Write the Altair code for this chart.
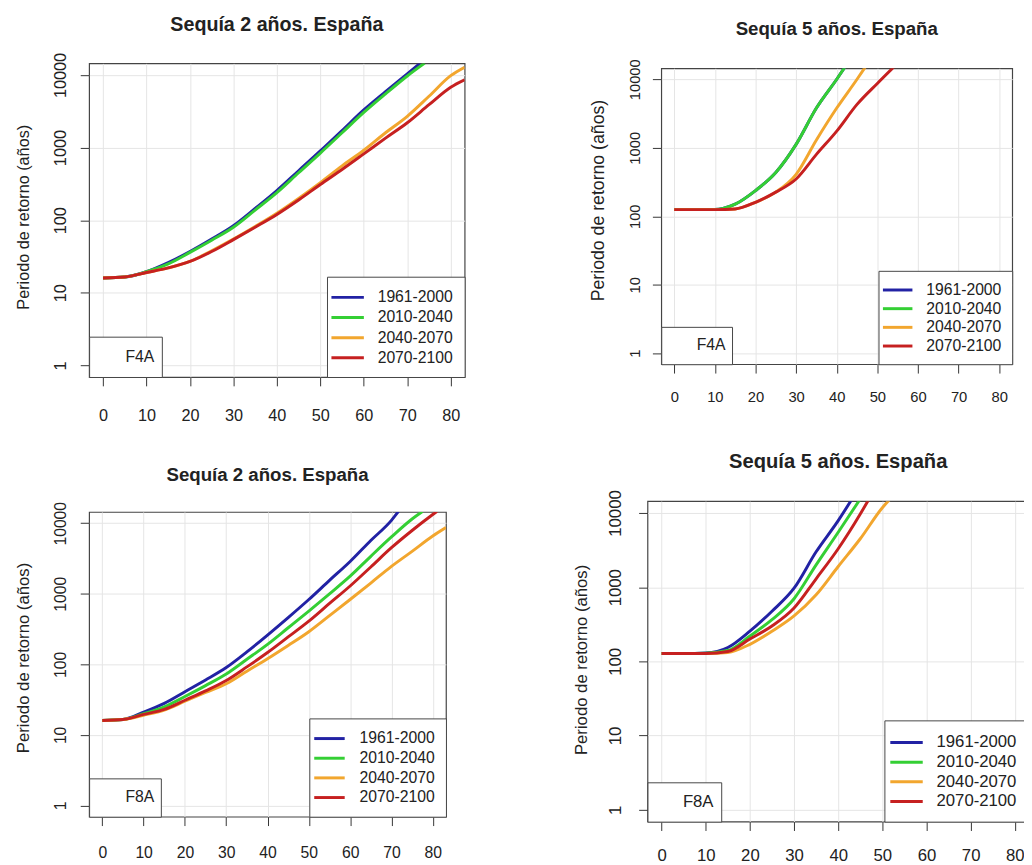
import altair as alt
import pandas as pd

FONT = "Liberation Sans"
TXT = "#222222"
TICK = "#333333"
BOX = "#444444"
GRID = "#e4e4e4"

SERIES = ["1961-2000", "2010-2040", "2040-2070", "2070-2100"]
COLORS = ["#2222a4", "#34cf34", "#f2a62e", "#c62020"]
X_TICKS = [0, 10, 20, 30, 40, 50, 60, 70, 80]
Y_TICKS = [1, 10, 100, 1000, 10000]
X_DOMAIN = [-3.2, 83.2]
Y_DOMAIN = [0.692, 14454]

TITLE_2 = "Sequía 2 años. España"
TITLE_5 = "Sequía 5 años. España"
Y_TITLE = "Periodo de retorno (años)"

# Panel 1 - Sequía 2 años, F4A
P1_X_1961 = [0, 5, 10, 15, 20, 25, 30, 35, 40, 45, 50, 55, 60, 65, 70, 73]
P1_Y_1961 = [16, 16.5, 19.5, 26, 37, 55, 84, 145, 256, 480, 900, 1720, 3300, 5900, 10400, 14600]
P1_X_2010 = [0, 5, 10, 15, 20, 25, 30, 35, 40, 45, 50, 55, 60, 65, 70, 74]
P1_Y_2010 = [16, 16.5, 19.5, 25, 36, 53, 80, 138, 240, 450, 840, 1600, 3050, 5500, 9700, 14600]
P1_X_2040 = [0, 5, 10, 15, 20, 25, 30, 35, 40, 45, 50, 55, 60, 65, 70, 75, 80, 83.2]
P1_Y_2040 = [16, 16.5, 19, 22, 27, 38, 55, 82, 125, 200, 330, 560, 920, 1600, 2700, 5100, 9800, 12800]
P1_X_2070 = [0, 5, 10, 15, 20, 25, 30, 35, 40, 45, 50, 55, 60, 65, 70, 75, 80, 83.2]
P1_Y_2070 = [16, 16.5, 19, 22, 27, 37, 54, 80, 120, 190, 310, 500, 820, 1350, 2200, 3900, 6800, 8600]

# Panel 2 - Sequía 5 años, F4A
P2_X_1961 = [0, 5, 10, 12, 15, 20, 25, 30, 35, 40, 42]
P2_Y_1961 = [125, 125, 126, 130, 150, 237, 435, 1120, 3800, 10000, 15000]
P2_X_2010 = [0, 5, 10, 12, 15, 20, 25, 30, 35, 40, 42]
P2_Y_2010 = [125, 125, 126, 130, 150, 237, 435, 1120, 3800, 10000, 15000]
P2_X_2040 = [0, 5, 10, 15, 20, 25, 30, 35, 40, 45, 47]
P2_Y_2040 = [125, 125, 125, 128, 160, 225, 410, 1300, 3800, 10000, 15000]
P2_X_2070 = [0, 5, 10, 15, 20, 25, 30, 35, 40, 45, 50, 54]
P2_Y_2070 = [125, 125, 125, 128, 160, 225, 350, 800, 1750, 4300, 8700, 15000]

# Panel 3 - Sequía 2 años, F8A
P3_X_1961 = [0, 5, 10, 15, 20, 25, 30, 35, 40, 45, 50, 55, 60, 65, 70, 71.7]
P3_Y_1961 = [16, 16.5, 21, 28, 41, 60, 90, 150, 260, 460, 830, 1550, 2870, 5700, 11000, 14700]
P3_X_2010 = [0, 5, 10, 15, 20, 25, 30, 35, 40, 45, 50, 55, 60, 65, 70, 75, 77.5]
P3_Y_2010 = [16, 16.5, 20, 25, 35, 50, 73, 118, 192, 330, 570, 1000, 1780, 3400, 6400, 11500, 14700]
P3_X_2040 = [0, 5, 10, 15, 20, 25, 30, 35, 40, 45, 50, 55, 60, 65, 70, 75, 80, 83.2]
P3_Y_2040 = [16, 16.5, 19, 22.5, 30, 40, 53, 80, 120, 185, 290, 490, 830, 1420, 2450, 4000, 6600, 8700]
P3_X_2070 = [0, 5, 10, 15, 20, 25, 30, 35, 40, 45, 50, 55, 60, 65, 70, 75, 80, 81]
P3_Y_2070 = [16, 16.5, 19.5, 23, 31, 42, 59, 92, 147, 245, 410, 730, 1290, 2400, 4500, 7900, 13300, 14700]

# Panel 4 - Sequía 5 años, F8A
P4_X_1961 = [0, 5, 10, 15, 20, 25, 30, 35, 40, 43]
P4_Y_1961 = [128, 128, 130, 154, 256, 475, 970, 3000, 7900, 15000]
P4_X_2010 = [0, 5, 10, 15, 20, 25, 30, 35, 40, 45]
P4_Y_2010 = [128, 128, 129, 140, 220, 365, 700, 2000, 5500, 15500]
P4_X_2040 = [0, 5, 10, 15, 20, 25, 30, 35, 40, 45, 50, 52]
P4_Y_2040 = [128, 128, 128, 132, 170, 255, 410, 790, 1900, 4500, 11800, 16000]
P4_X_2070 = [0, 5, 10, 15, 20, 25, 30, 35, 40, 45, 47]
P4_Y_2070 = [128, 128, 128, 136, 200, 300, 525, 1300, 3300, 9700, 15500]

SPACER = pd.DataFrame({"s": [0]})


def make_df(fbox, pairs):
    rows = []
    for name, (xs, ys) in zip(SERIES, pairs):
        for xv, yv in zip(xs, ys):
            rows.append({"x": xv, "y": yv, "serie": name, "caja": fbox})
    return pd.DataFrame(rows)


def panel(df, fbox, c):
    x_axis = alt.Axis(
        values=X_TICKS, title=None, domain=False, grid=True, gridColor=GRID,
        tickSize=9, tickColor=TICK, tickWidth=1, labelAngle=0, labelAlign="center",
        labelBaseline="middle", labelPadding=c["xpad"], labelFont=FONT,
        labelFontSize=c["tick"], labelColor=TXT, labelFlush=False, labelOverlap=False,
    )
    y_axis = alt.Axis(
        values=Y_TICKS, format="d", title=Y_TITLE, domain=False, grid=True, gridColor=GRID,
        tickSize=9, tickColor=TICK, tickWidth=1, labelAngle=270, labelAlign="center",
        labelBaseline="middle", labelPadding=c["ypad"], labelFont=FONT,
        labelFontSize=c["tick"], labelColor=TXT, labelFlush=False, labelOverlap=False,
        titleFont=FONT, titleFontSize=c["ytitle"], titleFontWeight="normal", titleColor=TXT,
        titleAngle=270, titleAlign="center", titleBaseline="middle",
        titleX=c["ytx"], titleY=c["yty"],
    )
    color_legend = alt.Legend(
        title=None, orient="bottom-right", offset=0, padding=c["lpad"],
        strokeColor=BOX, fillColor="white", cornerRadius=0,
        symbolType="M-2,0H2", symbolSize=c["lsym"], symbolStrokeWidth=3, symbolOffset=0,
        labelOffset=c["loff"], labelFont=FONT, labelFontSize=c["lfont"], labelColor=TXT,
        rowPadding=c["lrow"], labelLimit=0,
    )
    box_legend = alt.Legend(
        title=None, orient="bottom-left", offset=0, padding=c["fpad"],
        strokeColor=BOX, fillColor="white", cornerRadius=0,
        symbolType="M-1,-1M1,1", symbolSize=c["fsym"], symbolStrokeWidth=0,
        symbolFillColor="transparent", symbolStrokeColor="transparent",
        symbolOffset=c["fso"], labelOffset=0, labelFont=FONT, labelFontSize=c["ffont"],
        labelColor=TXT, labelLimit=0,
    )
    ttl = alt.Title(
        text=c["text"], font=FONT, fontSize=c["tsize"], fontWeight="bold", color=TXT,
        anchor="middle", frame="group", offset=c["toff"], baseline="top",
    )
    lines = alt.Chart(df).mark_line(strokeWidth=3, clip=True, interpolate="monotone").encode(
        x=alt.X("x:Q", scale=alt.Scale(domain=X_DOMAIN, nice=False, zero=False), axis=x_axis),
        y=alt.Y("y:Q", scale=alt.Scale(type="log", domain=Y_DOMAIN, nice=False), axis=y_axis),
        color=alt.Color("serie:N", scale=alt.Scale(domain=SERIES, range=COLORS), legend=color_legend),
        opacity=alt.Opacity("caja:N", scale=alt.Scale(domain=[fbox], range=[1]), legend=box_legend),
    )
    # invisible layout spacer (balances the vertical centring of each row)
    spacer = alt.Chart(SPACER).mark_rule(opacity=0, strokeWidth=1).encode(
        x=alt.value(0), x2=alt.value(1), y=alt.value(c["spacer"])
    )
    return alt.layer(lines, spacer).properties(width=c["w"], height=c["h"], title=ttl)


df1 = make_df("F4A", [(P1_X_1961, P1_Y_1961), (P1_X_2010, P1_Y_2010), (P1_X_2040, P1_Y_2040), (P1_X_2070, P1_Y_2070)])
df2 = make_df("F4A", [(P2_X_1961, P2_Y_1961), (P2_X_2010, P2_Y_2010), (P2_X_2040, P2_Y_2040), (P2_X_2070, P2_Y_2070)])
df3 = make_df("F8A", [(P3_X_1961, P3_Y_1961), (P3_X_2010, P3_Y_2010), (P3_X_2040, P3_Y_2040), (P3_X_2070, P3_Y_2070)])
df4 = make_df("F8A", [(P4_X_1961, P4_Y_1961), (P4_X_2010, P4_Y_2010), (P4_X_2040, P4_Y_2040), (P4_X_2070, P4_Y_2070)])

c1 = dict(w=382, h=319, text=TITLE_2, tsize=20, toff=17.9, tick=16.5, xpad=30, ypad=20, spacer=379,
          ytitle=16.5, ytx=-67, yty=156, lpad=11, lsym=272, loff=20.5, lfont=16, lrow=2.5,
          fpad=7, fsym=729, fso=3, ffont=16)
c2 = dict(w=357, h=301, text=TITLE_5, tsize=19, toff=19.8, tick=15, xpad=24, ypad=18, spacer=369,
          ytitle=18, ytx=-64, yty=134, lpad=10.5, lsym=225, loff=20, lfont=16, lrow=2,
          fpad=6, fsym=676, fso=4, ffont=16)
c3 = dict(w=363, h=310, text=TITLE_2, tsize=19, toff=16.3, tick=16, xpad=27, ypad=20, spacer=360,
          ytitle=17, ytx=-67, yty=148, lpad=11, lsym=240, loff=21, lfont=16, lrow=2,
          fpad=6, fsym=729, fso=4, ffont=16)
c4 = dict(w=388, h=326, text=TITLE_5, tsize=20.5, toff=17.2, tick=17, xpad=26, ypad=23, spacer=382,
          ytitle=17, ytx=-67, yty=161, lpad=12.5, lsym=272, loff=20.5, lfont=17, lrow=2,
          fpad=7, fsym=676, fso=3, ffont=17)

p1 = panel(df1, "F4A", c1)
p2 = panel(df2, "F4A", c2)
p3 = panel(df3, "F8A", c3)
p4 = panel(df4, "F8A", c4)

ind = dict(x="independent", y="independent", color="independent", opacity="independent")
row1 = (alt.hconcat(p1, p2, spacing=124, center=True)
        .resolve_scale(**ind).resolve_legend(color="independent", opacity="independent"))
row2 = (alt.hconcat(p3, p4, spacing=126, center=True)
        .resolve_scale(**ind).resolve_legend(color="independent", opacity="independent"))

chart = (
    alt.vconcat(row1, row2, spacing=15.3)
    .resolve_scale(**ind)
    .resolve_legend(color="independent", opacity="independent")
    .properties(padding={"left": 5.5, "top": -1.3, "right": -7, "bottom": -12}, background="white")
    .configure_view(stroke=BOX, strokeWidth=1.2)
)

chart.save("out.html", embed_options={"renderer": "svg", "actions": False})
